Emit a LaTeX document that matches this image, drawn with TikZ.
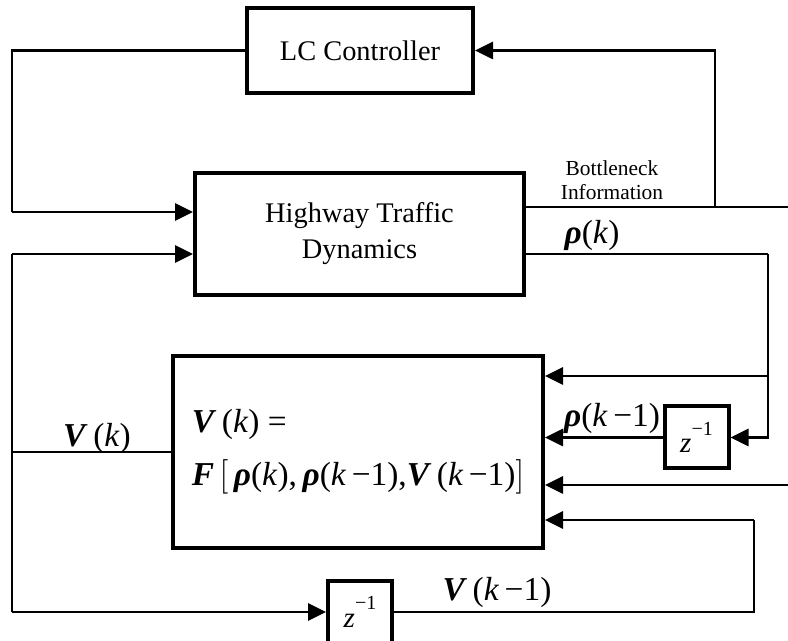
\documentclass[tikz,border=0pt]{standalone}
\usepackage{fontspec}
\setmainfont{Liberation Serif}
\usetikzlibrary{positioning,arrows.meta,calc}
\newcommand{\bvar}[1]{\textbf{\textit{#1}}}
\newcommand{\zinv}{\textit{z}\raisebox{0.6em}{\fontsize{10}{10}\selectfont −1}}
\tikzset{
  blk/.style  ={rectangle, draw=black, line width=2pt, align=center,
                font=\fontsize{14.2}{18}\selectfont},
  dly/.style  ={rectangle, draw=black, line width=2pt, inner sep=0pt,
                minimum width=32pt, minimum height=31pt, font=\fontsize{14.5}{16}\selectfont},
  wire/.style ={line width=1.35pt},
  flow/.style ={-{Triangle[length=9pt,width=8.5pt]}, line width=1.35pt},
  sig/.style  ={font=\fontsize{16.7}{18}\selectfont, inner sep=0pt},
  note/.style ={font=\fontsize{10.7}{12}\selectfont, align=center, inner sep=0pt},
}

\begin{document}
\begin{tikzpicture}[x=0.5pt, y=-0.5pt]
\useasboundingbox (0,0) rectangle (788,641);
% blocks
\node[blk, minimum width=113pt, minimum height=42.5pt] (lc) at (360,50.5) {LC Controller};
\node[blk, minimum width=164.5pt, minimum height=61pt] (htd) at (359.5,234) {Highway Traffic\\ Dynamics};
\node[blk, minimum width=185pt, minimum height=96pt, align=left,
      font=\fontsize{16.7}{26.5}\selectfont] (fbox) at (358,452)
  {\bvar{V}\,(\textit{k}) =\\ \bvar{F}\,\big[\,\bvar{ρ}(\textit{k}),\,\bvar{ρ}(\textit{k}\,−1),\bvar{V}\,(\textit{k}\,−1)\big]};
\node[dly] (zr) at (696.5,437.5) {\zinv};
\node[dly] (zb) at (360,612) {\zinv};
% corner points
\coordinate (lcL) at (12,212);
\coordinate (vTop) at (12,254);
\coordinate (vBot) at (12,612);
\coordinate (bnUp) at (715,207);
\coordinate (bnR) at (788,207);
\coordinate (rhoR) at (768,254);
\coordinate (rhoTap) at (768,376);
\coordinate (extR) at (788,485);
\coordinate (vkR) at (754,520);
% connectors
\draw[wire] (lc.west) -| (lcL);
\draw[flow] (lcL) -- (lcL -| htd.west);
\draw[wire] (htd.east |- bnR) -- (bnR);
\draw[flow] (bnUp) |- (lc.east);
\draw[wire] (htd.east |- rhoR) -- (rhoR);
\draw[flow] (rhoR) |- (zr.east);
\draw[flow] (rhoTap) -- (rhoTap -| fbox.east);
\draw[flow] (zr.west) -- (zr.west -| fbox.east);
\draw[flow] (extR) -- (extR -| fbox.east);
\draw[wire] (zb.east) -| (vkR);
\draw[flow] (vkR) -- (vkR -| fbox.east);
\draw[wire] (fbox.west) -- (fbox.west -| vTop);
\draw[flow] (vTop) -- (vTop -| htd.west);
\draw[wire] (vTop) -- (vBot);
\draw[flow] (vBot) -- (zb.west);
% labels
\node[note] (bnText) at (612,180) {Bottleneck\\ Information};
\node[sig] (rhoK) at (592,235) {\bvar{ρ}(\textit{k})};
\node[sig] (rhoK1) at (612,418) {\bvar{ρ}(\textit{k}\,−1)};
\node[sig] (vK) at (97,438) {\bvar{V}\,(\textit{k})};
\node[sig] (vK1) at (497,592) {\bvar{V}\,(\textit{k}\,−1)};
\end{tikzpicture}
\end{document}
